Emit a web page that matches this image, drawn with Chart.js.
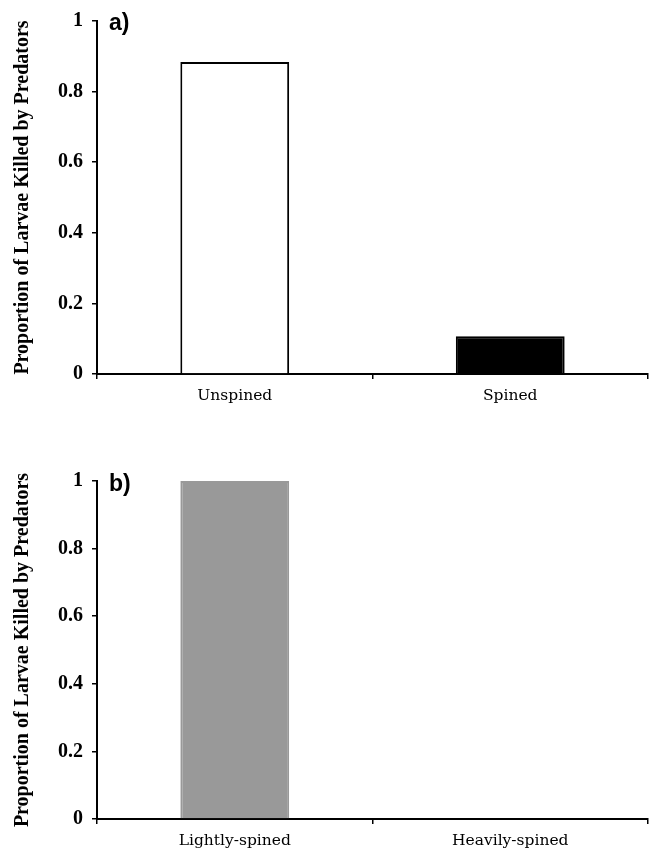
<!DOCTYPE html>
<html>
<head>
<meta charset="utf-8">
<script src="https://cdn.jsdelivr.net/npm/chart.js@4"></script>
<style>
  body { margin:0; background:#fff; width:650px; height:853px; position:relative; overflow:hidden; }
  canvas { position:absolute; left:0; }
  #cA { top:0; }
  #cB { top:440px; }
  .tag { position:absolute; font-family:"Liberation Sans", Arial, sans-serif; font-weight:bold; font-size:23px; color:#000; }
</style>
</head>
<body>
<canvas id="cA" width="650" height="420"></canvas>
<canvas id="cB" width="650" height="413"></canvas>
<div class="tag" style="left:109px; top:9px;">a)</div>
<div class="tag" style="left:109px; top:470px;">b)</div>
<script>
var yTitle = "Proportion of Larvae Killed by Predators"
var yTicks = [0, 0.2, 0.4, 0.6, 0.8, 1]

var catsA = ["Unspined", "Spined"]
var valsA = [0.884, 0.107]
var fillA = ["#ffffff", "#000000"]

var catsB = ["Lightly-spined", "Heavily-spined"]
var valsB = [1.0, 0]
var fillB = ["#999999", "#999999"]

function makeChart(id, cats, vals, fills, borders, padTop, xHeight){
    var ctx = document.getElementById(id).getContext('2d')
    return new Chart(ctx, {
        type: 'bar',
        data: {
            labels: cats,
            datasets: [{
                data: vals,
                backgroundColor: fills,
                borderColor: borders,
                borderWidth: 2,
                categoryPercentage: 1,
                barPercentage: 0.395
            }]
        },
        options: {
            responsive: false,
            animation: false,
            layout: { padding: { top: padTop, right: 2, left: 0, bottom: 0 } },
            plugins: { legend: { display: false }, tooltip: { enabled: false } },
            scales: {
                x: {
                    offset: true,
                    grid: { offset: true, drawOnChartArea: false, drawTicks: true, tickLength: 5, color: '#000', lineWidth: 1.5 },
                    border: { display: true, color: '#000', width: 2 },
                    ticks: { color: '#000', padding: 8, font: { family: '"DejaVu Serif", serif', size: 15.5 } },
                    afterFit: function(s){ s.height = xHeight }
                },
                y: {
                    min: 0, max: 1,
                    afterBuildTicks: function(s){ s.ticks = yTicks.map(function(v){ return { value: v } }) },
                    grid: { drawOnChartArea: false, drawTicks: true, tickLength: 5, color: '#000', lineWidth: 1.5 },
                    border: { display: true, color: '#000', width: 2 },
                    ticks: {
                        color: '#000', padding: 9,
                        font: { family: '"Liberation Serif", serif', size: 20, weight: 'bold' },
                        callback: function(v){ return String(Math.round(v * 10) / 10) }
                    },
                    title: {
                        display: true, text: yTitle, color: '#000',
                        font: { family: '"Liberation Serif", serif', size: 20, weight: 'bold' },
                        padding: { top: 11, bottom: 0 }
                    },
                    afterFit: function(s){ s.width = 97 }
                }
            }
        }
    })
}

makeChart('cA', catsA, valsA, fillA, ["#000000", "#000000"], 20, 46)
makeChart('cB', catsB, valsB, fillB, ["#999999", "#999999"], 41, 34)
</script>
</body>
</html>
